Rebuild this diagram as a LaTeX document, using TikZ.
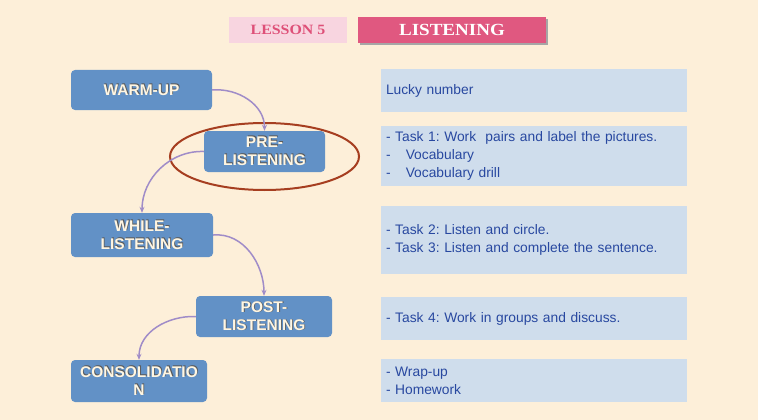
\documentclass[tikz,border=0pt]{standalone}
\usepackage{fontspec}
\setmainfont{Liberation Sans}
\newfontfamily\titlefont{Liberation Serif}[FakeStretch=1.12]
\usetikzlibrary{arrows.meta,calc,shapes.geometric}
\definecolor{bg}{RGB}{253,239,217}
\definecolor{stepblue}{RGB}{98,145,198}
\definecolor{infofill}{RGB}{207,221,236}
\definecolor{infotext}{RGB}{40,72,160}
\definecolor{arrowc}{RGB}{160,140,200}
\definecolor{ringc}{RGB}{166,62,32}
\definecolor{lessonfill}{RGB}{248,213,224}
\definecolor{lessontext}{RGB}{222,80,120}
\definecolor{listenfill}{RGB}{224,88,128}
\definecolor{steptext}{RGB}{255,246,226}
\tikzset{
  stepbox/.style={draw=none,fill=stepblue,rounded corners=4pt,inner sep=0pt},
  steplabel/.style={text=steptext,font=\bfseries\fontsize{15.5}{18}\selectfont,align=center,inner sep=0pt},
  stepshadow/.style={text=black!65,font=\bfseries\fontsize{15.5}{18}\selectfont,align=center,inner sep=0pt},
  infobox/.style={draw=none,fill=infofill,minimum width=306pt,text width=296pt,inner xsep=5pt,inner ysep=0pt,align=left,text=infotext,font=\frenchspacing\fontsize{13.8}{18}\selectfont},
  flow/.style={draw=arrowc,line width=1.5pt,-{Stealth[length=6pt,width=5pt]}},
}
\newcommand{\stepnode}[6]{%
  \node[stepbox,minimum width=#3pt,minimum height=#4pt] (#1) at (#2) {};
  \node[stepshadow] (#1s) at ($(#1)+(0.8,-0.8)$) {#5};
  \node[steplabel] (#1t) at (#1) {#6};
}
\begin{document}
\begin{tikzpicture}[x=1pt,y=-1pt]
\fill[bg] (0,0) rectangle (758,420);
\useasboundingbox (0,0) rectangle (758,420);
% title
\node[fill=lessonfill,minimum width=118pt,minimum height=26pt,inner sep=0pt,text=lessontext,font=\titlefont\bfseries\fontsize{14.2}{16}\selectfont] (lesson) at (288,30) {LESSON 5};
\fill[black!35] (360,19) rectangle (548,45);
\node[fill=listenfill,minimum width=188pt,minimum height=26pt,inner sep=0pt,text=white,font=\titlefont\bfseries\fontsize{17}{19}\selectfont] (listen) at (452,30) {LISTENING};
% steps
\stepnode{warm}{141.5,90}{141}{40}{WARM-UP}{WARM-UP}
\stepnode{pre}{264.5,151.5}{121}{41}{PRE-\\LISTENING}{PRE-\\LISTENING}
\stepnode{while}{142,235}{142}{44}{WHILE-\\LISTENING}{WHILE-\\LISTENING}
\stepnode{post}{264,316.5}{136}{41}{POST-\\LISTENING}{POST-\\LISTENING}
\stepnode{cons}{139,381}{136}{42}{CONSOLIDATIO\\N}{CONSOLIDATIO\\N}
% ring
\node[draw=ringc,line width=2pt,ellipse,minimum width=189pt,minimum height=67pt,inner sep=0pt] (ring) at (264.5,156.5) {};
% arrows
\draw[flow] (warm.east) to[out=5,in=90] (pre.north);
\draw[flow] (pre.west) to[out=178,in=90] (while.north);
\draw[flow] (while.east) to[out=5,in=90] (post.north);
\draw[flow] (post.west) to[out=178,in=90] (cons.north);
% info boxes
\node[infobox,minimum height=43pt] (i1) at (534,90.5) {Lucky number};
\node[infobox,minimum height=60pt] (i2) at (534,156) {- Task 1: Work\ \ pairs and label the pictures.\\-\hspace{1.1em}Vocabulary\\-\hspace{1.1em}Vocabulary drill};
\node[infobox,minimum height=68pt] (i3) at (534,240) {- Task 2: Listen and circle.\\- Task 3: Listen and complete the sentence.};
\node[infobox,minimum height=43pt] (i4) at (534,318.5) {- Task 4: Work in groups and discuss.};
\node[infobox,minimum height=43pt] (i5) at (534,380.5) {- Wrap-up\\- Homework};
\end{tikzpicture}
\end{document}
